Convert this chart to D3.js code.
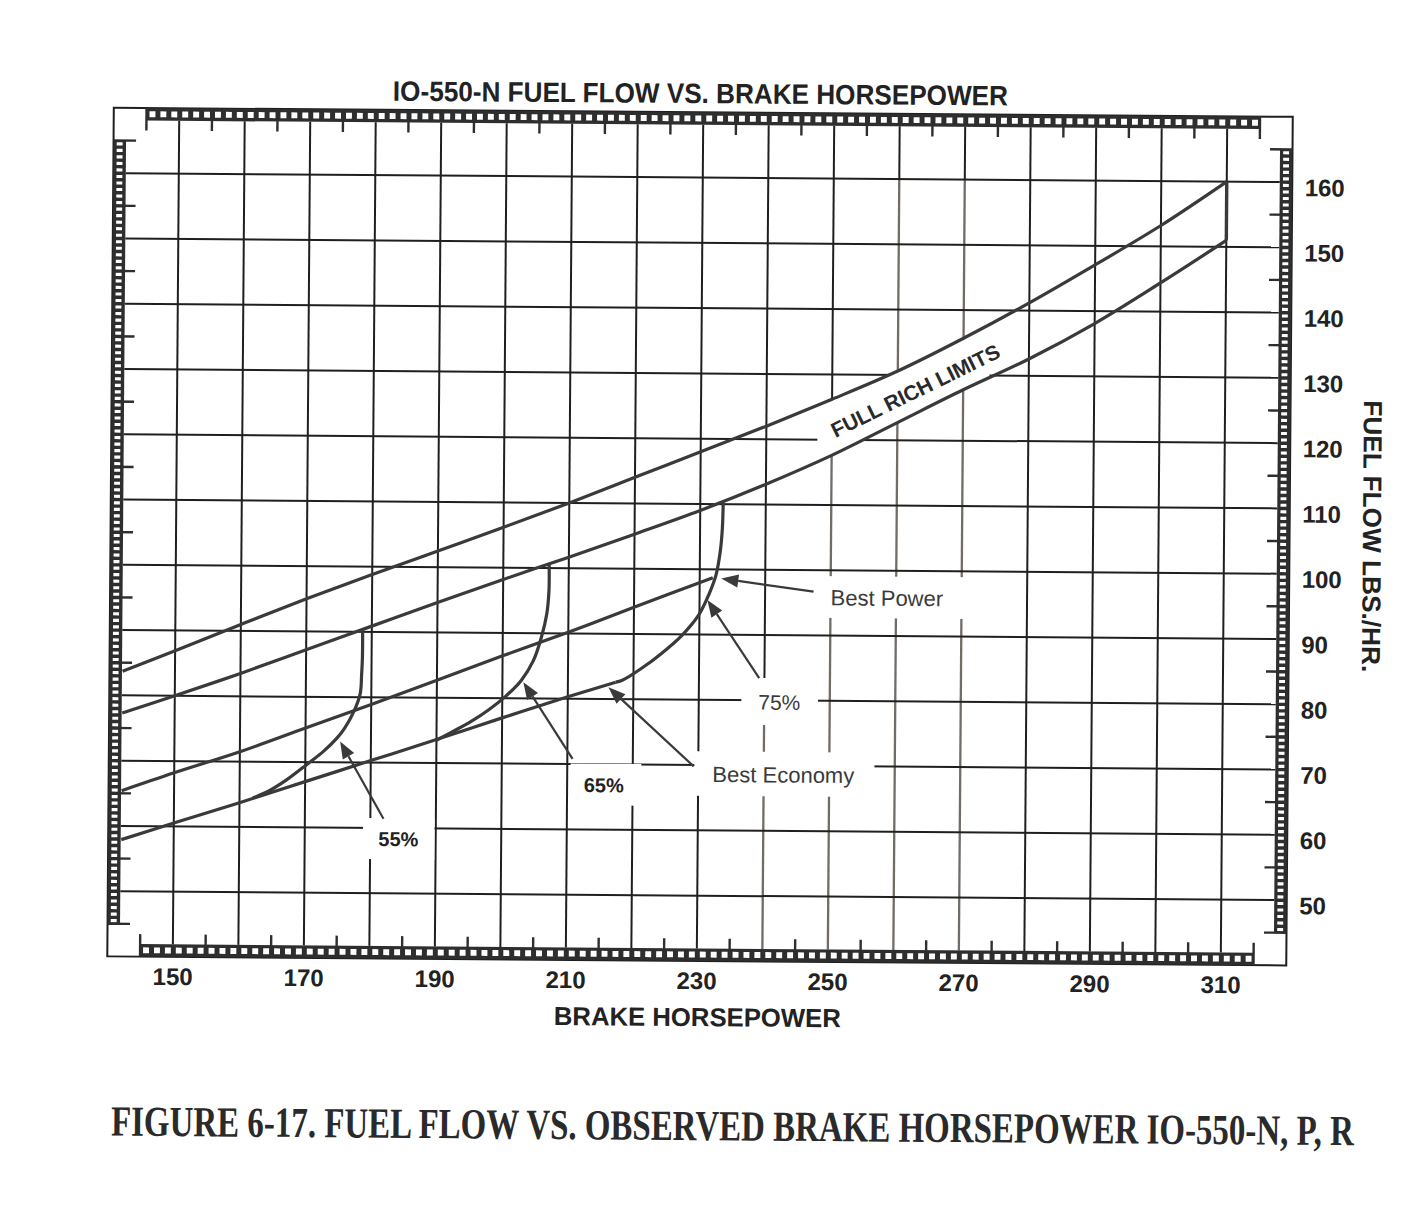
<!DOCTYPE html>
<html>
<head>
<meta charset="utf-8">
<title>IO-550-N Fuel Flow vs. Brake Horsepower</title>
<script src="https://cdn.jsdelivr.net/npm/d3@7/dist/d3.min.js"></script>
<style>
    body { margin: 0; background: #fff; }
    svg { display: block; }
    text { font-family: "Liberation Sans", Arial, sans-serif; fill: #222; }
</style>
</head>
<body>
<script>

//SVG dimension variables
var w = 1420, h = 1220;

//tick values (grid every 10, labels every 20 hp / every 10 lbs)
var hpGrid = [150, 160, 170, 180, 190, 200, 210, 220, 230, 240, 250, 260, 270, 280, 290, 300, 310];
var hpLabels = [150, 170, 190, 210, 230, 250, 270, 290, 310];
var flowGrid = [50, 60, 70, 80, 90, 100, 110, 120, 130, 140, 150, 160];
var flowLabels = [50, 60, 70, 80, 90, 100, 110, 120, 130, 140, 150, 160];
//ladder (scale strip) major ticks sit half way between grid lines
var hpLadderTicks = [145, 155, 165, 175, 185, 195, 205, 215, 225, 235, 245, 255, 265, 275, 285, 295, 305, 315];
var flowLadderTicks = [45, 55, 65, 75, 85, 95, 105, 115, 125, 135, 145, 155, 165];

//curves, [brake hp, fuel flow lbs/hr]
var fullRichUpper = [[142, 83.7], [150, 86.9], [160, 91.0], [170, 95.0], [180, 98.8], [190, 102.5], [200, 106.2], [210, 110.0], [220, 114.0], [230, 118.0], [240, 122.0], [250, 126.2], [260, 130.6], [270, 135.7], [280, 141.2], [290, 147.1], [300, 153.2], [310, 160.0]];
var fullRichLower = [[142, 77.3], [150, 80.0], [160, 83.5], [170, 87.2], [180, 90.9], [190, 94.6], [200, 98.2], [210, 101.7], [220, 105.3], [230, 109.0], [240, 113.1], [250, 117.6], [260, 122.7], [270, 127.8], [280, 132.6], [290, 138.1], [300, 144.4], [310, 151.0]];
var bestPower = [[142, 65.4], [150, 68.2], [160, 71.5], [170, 75.2], [180, 78.9], [190, 82.7], [200, 86.5], [210, 90.2], [220, 94.1], [232, 98.7]];
var bestEconomy = [[142, 57.9], [150, 60.5], [160, 63.7], [170, 67.0], [180, 70.3], [190, 73.6], [200, 77.0], [210, 80.3], [217.3, 82.6]];
var power55 = [[178.6, 90.3], [178.6, 86.0], [178.5, 83.5], [178.3, 80.5], [177.4, 77.9], [176.0, 75.3], [174.8, 73.7], [172.8, 71.7], [170.2, 69.6], [167.1, 67.2], [164.6, 65.6], [162.0, 64.4]];
var power65 = [[207.0, 100.5], [207.0, 96.5], [206.7, 93.0], [205.9, 89.4], [204.7, 85.8], [202.9, 82.8], [200.5, 80.3], [197.9, 78.2], [195.4, 76.5], [192.6, 74.9], [190.0, 73.5]];
var power75 = [[233.5, 110.3], [233.4, 106.3], [233.1, 102.7], [232.5, 99.2], [231.4, 96.1], [229.9, 93.0], [227.4, 89.9], [224.3, 87.1], [221.3, 84.8], [218.3, 82.9], [217.3, 82.6]];

//annotation labels: text, white box (hp / flow extent), text anchor, arrow tail and tip
var notes = [
    {text: "55%", bold: true, size: 20, box: [178.9, 189.8, 55.2, 61.5], at: [184.3, 58.3], arrow: [[182.0, 61.4], [175.3, 73.2]]},
    {text: "65%", bold: true, size: 20, box: [210.5, 221.3, 63.7, 70.1], at: [215.6, 66.8], arrow: [[210.8, 70.8], [203.2, 82.5]]},
    {text: "Best Economy", bold: false, size: 22, box: [229.4, 256.9, 65.3, 72.1], at: [243.0, 68.6], arrow: [[229.3, 69.8], [216.2, 81.8]]},
    {text: "75%", bold: false, size: 21, box: [236.5, 248.2, 76.2, 83.4], at: [242.3, 79.7], arrow: [[239.2, 83.4], [231.2, 95.3]]},
    {text: "Best Power", bold: false, size: 22, box: [247.4, 270.8, 92.7, 99.1], at: [258.6, 95.8], arrow: [[247.4, 96.7], [233.3, 98.6]]}
];

//grid lines that are printed lighter in the scan: grey below the given flow
var fadedGrid = {240: 80, 250: 125, 260: 160, 270: 160};

window.onload = function(){

    var svg = d3.select("body")
        .append("svg")
        .attr("width", w)
        .attr("height", h)
        .style("background-color", "#fff");

    //the scanned page is turned a little clockwise
    var page = svg.append("g")
        .attr("transform", "rotate(0.44, 686, 540)");

    //scales - frame runs 140..320 hp and 40..170 lbs/hr
    var x = d3.scaleLinear()
        .domain([140, 320])
        .range([110.5, 1289.5]);

    var y = d3.scaleLinear()
        .domain([40, 170])
        .range([960.8, 112.2]);

    var lad = 12.5; //ladder strip thickness
    var gridCol = "#1f1f1f", fadeCol = "#726c67", curveCol = "#3a3a3a";

    //vertical grid lines, split into dark / faded parts
    hpGrid.forEach(function(v){
        var top = y(170) + lad, bottom = y(40) - lad;
        var cut = fadedGrid[v] ? Math.min(y(fadedGrid[v]), bottom) : bottom;
        cut = Math.max(cut, top);
        page.append("line")
            .attr("x1", x(v)).attr("x2", x(v))
            .attr("y1", top).attr("y2", cut)
            .style("stroke", gridCol).style("stroke-width", 2);
        if (cut < bottom){
            page.append("line")
                .attr("x1", x(v)).attr("x2", x(v))
                .attr("y1", cut).attr("y2", bottom)
                .style("stroke", fadeCol).style("stroke-width", 2.3);
        }
    });

    //horizontal grid lines
    page.selectAll(".hgrid")
        .data(flowGrid)
        .enter()
        .append("line")
        .attr("class", "hgrid")
        .attr("x1", x(140) + lad)
        .attr("x2", x(320) - lad)
        .attr("y1", function(d){ return y(d); })
        .attr("y2", function(d){ return y(d); })
        .style("stroke", gridCol)
        .style("stroke-width", 2);

    //white band behind "FULL RICH LIMITS"
    var inBand = function(d){ return d[0] >= 250 && d[0] <= 270; };
    var bandTop = [[247.8, 125.3]].concat(fullRichUpper.filter(inBand)).concat([[274, 137.9]]);
    var bandBot = [[247.8, 116.6]].concat(fullRichLower.filter(inBand)).concat([[274, 129.8]]);
    var band = bandTop.concat(bandBot.reverse());
    page.append("path")
        .attr("d", "M" + band.map(function(d){ return x(d[0]) + "," + y(d[1]); }).join("L") + "Z")
        .style("fill", "#fff");

    //white label boxes that break the grid
    page.selectAll(".noteBox")
        .data(notes)
        .enter()
        .append("rect")
        .attr("class", "noteBox")
        .attr("x", function(d){ return x(d.box[0]); })
        .attr("y", function(d){ return y(d.box[3]); })
        .attr("width", function(d){ return x(d.box[1]) - x(d.box[0]); })
        .attr("height", function(d){ return y(d.box[2]) - y(d.box[3]); })
        .style("fill", "#fff");

    //outer frame
    page.append("rect")
        .attr("x", x(140))
        .attr("y", y(170))
        .attr("width", x(320) - x(140))
        .attr("height", y(40) - y(170))
        .style("fill", "none")
        .style("stroke", gridCol)
        .style("stroke-width", 2);

    //ladder strips along the four sides
    var ladCol = "#2e2e2e";
    function hLadder(y0, tickDir){
        var x0 = x(145), x1 = x(315);
        var n = 102, cw = (x1 - x0) / n;
        var g = page.append("g").attr("class", "ladder");
        g.append("rect")
            .attr("x", x0).attr("y", y0)
            .attr("width", x1 - x0).attr("height", lad)
            .style("fill", ladCol);
        g.selectAll(".cell")
            .data(d3.range(n))
            .enter()
            .append("rect")
            .attr("x", function(i){ return x0 + i * cw + 3; })
            .attr("y", y0 + 3.2)
            .attr("width", cw - 5)
            .attr("height", lad - 6.6)
            .style("fill", "#fff");
        g.selectAll(".tick")
            .data(hpLadderTicks)
            .enter()
            .append("line")
            .attr("x1", function(d){ return x(d); })
            .attr("x2", function(d){ return x(d); })
            .attr("y1", tickDir > 0 ? y0 : y0 + lad)
            .attr("y2", tickDir > 0 ? y0 + lad + 10 : y0 - 10)
            .style("stroke", ladCol)
            .style("stroke-width", 2.4);
    }
    function vLadder(x0, tickDir){
        var y0 = y(165), y1 = y(45);
        var n = 120, ch = (y1 - y0) / n;
        var g = page.append("g").attr("class", "ladder");
        g.append("rect")
            .attr("x", x0).attr("y", y0)
            .attr("width", lad).attr("height", y1 - y0)
            .style("fill", ladCol);
        g.selectAll(".cell")
            .data(d3.range(n))
            .enter()
            .append("rect")
            .attr("x", x0 + 3.2)
            .attr("y", function(i){ return y0 + i * ch + 1.8; })
            .attr("width", lad - 6.6)
            .attr("height", ch - 3.4)
            .style("fill", "#fff");
        g.selectAll(".tick")
            .data(flowLadderTicks)
            .enter()
            .append("line")
            .attr("y1", function(d){ return y(d); })
            .attr("y2", function(d){ return y(d); })
            .attr("x1", tickDir > 0 ? x0 : x0 + lad)
            .attr("x2", tickDir > 0 ? x0 + lad + 10 : x0 - 10)
            .style("stroke", ladCol)
            .style("stroke-width", 2.4);
    }
    hLadder(y(170), 1);
    hLadder(y(40) - lad, -1);
    vLadder(x(140), 1);
    vLadder(x(320) - lad, -1);

    //curves
    var line = d3.line()
        .x(function(d){ return x(d[0]); })
        .y(function(d){ return y(d[1]); })
        .curve(d3.curveCatmullRom.alpha(0.5));

    var series = [fullRichUpper, fullRichLower, bestPower, bestEconomy, power55, power65, power75];
    page.selectAll(".curve")
        .data(series)
        .enter()
        .append("path")
        .attr("class", "curve")
        .attr("d", line)
        .style("fill", "none")
        .style("stroke", curveCol)
        .style("stroke-width", 3.2)
        .style("stroke-linejoin", "round");

    //closing edge of the full rich band at 310 hp
    var lastU = fullRichUpper[fullRichUpper.length - 1], lastL = fullRichLower[fullRichLower.length - 1];
    page.append("line")
        .attr("x1", x(lastU[0])).attr("x2", x(lastL[0]))
        .attr("y1", y(lastU[1])).attr("y2", y(lastL[1]))
        .style("stroke", curveCol)
        .style("stroke-width", 3.4);

    //arrows from labels to curves
    notes.forEach(function(d){
        var tx = x(d.arrow[0][0]), ty = y(d.arrow[0][1]);
        var px = x(d.arrow[1][0]), py = y(d.arrow[1][1]);
        var dx = px - tx, dy = py - ty, len = Math.sqrt(dx * dx + dy * dy);
        var ux = dx / len, uy = dy / len;
        var hl = 17, hw = 6.5;
        var bx = px - ux * hl, by = py - uy * hl;
        page.append("line")
            .attr("x1", tx).attr("y1", ty)
            .attr("x2", bx).attr("y2", by)
            .style("stroke", curveCol)
            .style("stroke-width", 2.2);
        page.append("path")
            .attr("d", "M" + px + "," + py +
                "L" + (bx - uy * hw) + "," + (by + ux * hw) +
                "L" + (bx + uy * hw) + "," + (by - ux * hw) + "Z")
            .style("fill", curveCol);
    });

    //annotation texts
    page.selectAll(".noteText")
        .data(notes)
        .enter()
        .append("text")
        .attr("class", "noteText")
        .attr("x", function(d){ return x(d.at[0]); })
        .attr("y", function(d){ return y(d.at[1]); })
        .attr("dy", "0.35em")
        .attr("text-anchor", "middle")
        .style("font-size", function(d){ return d.size + "px"; })
        .style("font-weight", function(d){ return d.bold ? "bold" : "normal"; })
        .style("fill", function(d){ return d.bold ? "#222" : "#3a3a3a"; })
        .text(function(d){ return d.text; });

    page.append("text")
        .attr("transform", "translate(" + x(262.7) + "," + y(127.6) + ") rotate(-26.5)")
        .attr("dy", "0.35em")
        .attr("text-anchor", "middle")
        .style("font-size", "21px")
        .style("font-weight", "bold")
        .style("fill", "#2a2a2a")
        .text("FULL RICH LIMITS");

    //x tick labels
    page.selectAll(".xLabel")
        .data(hpLabels)
        .enter()
        .append("text")
        .attr("class", "xLabel")
        .attr("x", function(d){ return x(d); })
        .attr("y", 989)
        .attr("text-anchor", "middle")
        .style("font-size", "24px")
        .style("font-weight", "bold")
        .text(function(d){ return d; });

    //y tick labels on the right
    page.selectAll(".yLabel")
        .data(flowLabels)
        .enter()
        .append("text")
        .attr("class", "yLabel")
        .attr("x", 1302)
        .attr("y", function(d){ return y(d) + 14; })
        .attr("text-anchor", "start")
        .style("font-size", "24px")
        .style("font-weight", "bold")
        .text(function(d){ return d; });

    //titles
    page.append("text")
        .attr("x", 697)
        .attr("y", 103)
        .attr("text-anchor", "middle")
        .attr("textLength", 615)
        .attr("lengthAdjust", "spacingAndGlyphs")
        .style("font-size", "28px")
        .style("font-weight", "bold")
        .text("IO-550-N FUEL FLOW VS. BRAKE HORSEPOWER");

    page.append("text")
        .attr("x", 701)
        .attr("y", 1026)
        .attr("text-anchor", "middle")
        .attr("textLength", 287)
        .attr("lengthAdjust", "spacingAndGlyphs")
        .style("font-size", "26px")
        .style("font-weight", "bold")
        .text("BRAKE HORSEPOWER");

    page.append("text")
        .attr("transform", "translate(1372,531) rotate(90)")
        .attr("dy", "0.35em")
        .attr("text-anchor", "middle")
        .attr("textLength", 272)
        .attr("lengthAdjust", "spacingAndGlyphs")
        .style("font-size", "26px")
        .style("font-weight", "bold")
        .text("FUEL FLOW LBS./HR.");

    //figure caption in tall serif type (stretched upward from its baseline)
    page.append("text")
        .attr("transform", "translate(737,1140) scale(1,1.3)")
        .attr("x", 0)
        .attr("y", 0)
        .attr("text-anchor", "middle")
        .attr("textLength", 1243)
        .attr("lengthAdjust", "spacingAndGlyphs")
        .style("font-family", "'Liberation Serif', 'Times New Roman', serif")
        .style("font-size", "33px")
        .style("font-weight", "bold")
        .style("fill", "#2a2a2a")
        .text("FIGURE 6-17. FUEL FLOW VS. OBSERVED BRAKE HORSEPOWER IO-550-N, P, R");
};

</script>
</body>
</html>
